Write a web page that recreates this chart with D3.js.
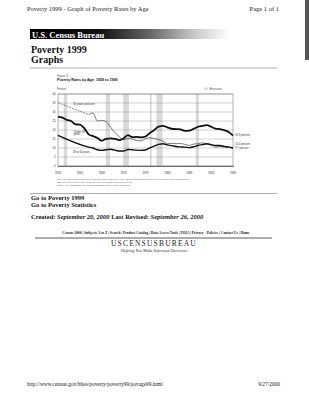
<!DOCTYPE html>
<html>
<head>
<meta charset="utf-8">
<script src="https://cdn.jsdelivr.net/npm/d3@7"></script>
<style>
  body { margin: 0; background: #fff; }
  svg { display: block; }
</style>
</head>
<body>
<div id="page"></div>
<script>
// poverty rates by age, percent
var under18Years = d3.range(1959, 2000);
var under18 = [27.3, 26.9, 25.6, 25.0, 23.1, 23.0, 21.0, 17.6, 16.6, 15.6, 14.0,
  15.1, 15.3, 15.1, 14.4, 15.4, 17.1, 16.0, 16.2, 15.9, 16.4, 18.3, 20.0, 21.9,
  22.3, 21.5, 20.7, 20.5, 20.3, 19.5, 19.6, 20.6, 21.8, 22.3, 22.7, 21.8, 20.8,
  20.5, 19.9, 18.9, 16.9];
var adultYears = [1959].concat(d3.range(1966, 2000));
var age18to64 = [17.0, 10.5, 10.0, 9.0, 8.7, 9.0, 9.3, 8.8, 8.3, 8.3, 9.2, 9.0,
  8.8, 8.7, 8.9, 10.1, 11.1, 12.0, 12.4, 11.7, 11.3, 10.8, 10.6, 10.5, 10.2,
  10.7, 11.4, 11.9, 12.4, 11.9, 11.4, 11.4, 10.9, 10.5, 10.0];
var age65 = [35.2, 28.5, 29.5, 25.0, 25.3, 24.6, 21.6, 18.6, 16.3, 14.6, 15.3,
  15.0, 14.1, 14.0, 15.2, 15.7, 15.3, 14.6, 13.8, 12.4, 12.6, 12.4, 12.5, 12.0,
  11.4, 12.2, 12.4, 12.9, 12.2, 11.7, 10.5, 10.8, 10.5, 10.5, 9.7];
var recessions = [[1960.3, 1961.1], [1969.9, 1970.9], [1973.9, 1975.2],
  [1980.0, 1980.4], [1981.5, 1982.9], [1990.5, 1991.2]];
var xTicks = [1959, 1964, 1969, 1974, 1979, 1984, 1989, 1994, 1999];
var yTicks = [0, 5, 10, 15, 20, 25, 30, 35, 40];
var navLinks = ["Census 2000", "Subjects A to Z", "Search", "Product Catalog",
  "Data Access Tools", "FOIA", "Privacy \u00b7 Policies", "Contact Us", "Home"];

var W = 309, H = 400;
var svg = d3.select("#page").append("svg").attr("width", W).attr("height", H);
var serif = "'Liberation Serif', 'DejaVu Serif', serif";
var sans = "'Liberation Sans', Arial, sans-serif";

// scan edge at the right
svg.append("rect").attr("x", 305).attr("y", 0).attr("width", 4).attr("height", 60).attr("fill", "#555");

// browser print header / footer
svg.append("text").attr("x", 27).attr("y", 11).attr("font-family", serif).attr("font-size", 6.5)
  .attr("fill", "#222").text("Poverty 1999 - Graph of Poverty Rates by Age");
svg.append("text").attr("x", 279).attr("y", 11).attr("text-anchor", "end").attr("font-family", serif)
  .attr("font-size", 6.5).attr("fill", "#222").text("Page 1 of 1");
svg.append("text").attr("x", 27).attr("y", 386).attr("font-family", serif).attr("font-size", 5.4)
  .attr("fill", "#222").text("http://www.census.gov/hhes/poverty/poverty99/povage99.html");
svg.append("text").attr("x", 280).attr("y", 386).attr("text-anchor", "end").attr("font-family", serif)
  .attr("font-size", 5.4).attr("fill", "#222").text("9/27/2000");

// banner
var defs = svg.append("defs");
var grad = defs.append("linearGradient").attr("id", "banner");
[[0, "#000"], [0.35, "#111"], [0.6, "#666"], [0.82, "#c8c8c8"], [1, "#fff"]].forEach(function (s) {
  grad.append("stop").attr("offset", s[0]).attr("stop-color", s[1]);
});
svg.append("rect").attr("x", 30).attr("y", 29).attr("width", 200).attr("height", 10).attr("fill", "url(#banner)");
svg.append("text").attr("x", 32).attr("y", 37.5).attr("font-family", serif).attr("font-size", 8.5)
  .attr("font-weight", "bold").attr("fill", "#fff").text("U.S. Census Bureau");

svg.append("text").attr("x", 31).attr("y", 53).attr("font-family", serif).attr("font-size", 10)
  .attr("font-weight", "bold").attr("fill", "#111").text("Poverty 1999");
svg.append("text").attr("x", 31).attr("y", 63).attr("font-family", serif).attr("font-size", 10)
  .attr("font-weight", "bold").attr("fill", "#111").text("Graphs");
svg.append("line").attr("x1", 30).attr("x2", 277).attr("y1", 68).attr("y2", 68)
  .attr("stroke", "#999").attr("stroke-width", 0.8);

// figure title
svg.append("text").attr("x", 57).attr("y", 76.5).attr("font-family", sans).attr("font-size", 3)
  .attr("fill", "#555").text("Figure 3.");
svg.append("text").attr("x", 57).attr("y", 80.5).attr("font-family", sans).attr("font-size", 3.6)
  .attr("font-weight", "bold").attr("fill", "#111").text("Poverty Rates by Age: 1959 to 1999");
svg.append("text").attr("x", 57).attr("y", 89.5).attr("font-family", sans).attr("font-size", 2.6)
  .attr("fill", "#444").text("Percent");

// chart
var x = d3.scaleLinear().domain([1959, 1999]).range([58, 233]);
var y = d3.scaleLinear().domain([0, 40]).range([166, 94]);
var g = svg.append("g");

g.selectAll(".rec").data(recessions).enter().append("rect")
  .attr("x", function (d) { return x(d[0]); })
  .attr("width", function (d) { return x(d[1]) - x(d[0]); })
  .attr("y", y(40)).attr("height", y(0) - y(40))
  .attr("fill", "#d9d9d9");

g.selectAll(".grid").data(yTicks).enter().append("line")
  .attr("x1", x(1959)).attr("x2", x(1999))
  .attr("y1", function (d) { return y(d); }).attr("y2", function (d) { return y(d); })
  .attr("stroke", "#888").attr("stroke-width", 0.4);
g.append("rect").attr("x", x(1959)).attr("y", y(40)).attr("width", x(1999) - x(1959))
  .attr("height", y(0) - y(40)).attr("fill", "none").attr("stroke", "#666").attr("stroke-width", 0.5);

var xAxis = g.append("g").attr("transform", "translate(0," + y(0) + ")")
  .call(d3.axisBottom(x).tickValues(d3.range(1959, 2000)).tickSize(1.2).tickFormat(""));
xAxis.selectAll("line").attr("stroke", "#444").attr("stroke-width", 0.3);
xAxis.select(".domain").attr("stroke", "#333").attr("stroke-width", 0.6);
g.selectAll(".xl").data(xTicks).enter().append("text")
  .attr("x", function (d) { return x(d); }).attr("y", 173.5)
  .attr("text-anchor", "middle").attr("font-family", sans).attr("font-size", 2.8).attr("fill", "#333")
  .text(function (d) { return d; });
g.selectAll(".yl").data(yTicks).enter().append("text")
  .attr("x", 55.5).attr("y", function (d) { return y(d) + 1; })
  .attr("text-anchor", "end").attr("font-family", sans).attr("font-size", 2.8).attr("fill", "#333")
  .text(function (d) { return d; });

var line = d3.line().curve(d3.curveMonotoneX)
  .x(function (d) { return x(d[0]); }).y(function (d) { return y(d[1]); });

var aged = d3.zip(adultYears, age65);
g.append("path").attr("d", line(aged.slice(0, 2))).attr("fill", "none")
  .attr("stroke", "#555").attr("stroke-width", 0.7).attr("stroke-dasharray", "2,1");
g.append("path").attr("d", line(aged.slice(1))).attr("fill", "none")
  .attr("stroke", "#555").attr("stroke-width", 0.8);
g.append("path").attr("d", line(d3.zip(adultYears, age18to64))).attr("fill", "none")
  .attr("stroke", "#111").attr("stroke-width", 1.4);
g.append("path").attr("d", line(d3.zip(under18Years, under18))).attr("fill", "none")
  .attr("stroke", "#111").attr("stroke-width", 1.8);

// series labels
function lbl(t, xx, yy, anchor) {
  g.append("text").attr("x", xx).attr("y", yy).attr("text-anchor", anchor || "start")
    .attr("font-family", sans).attr("font-size", 2.7).attr("fill", "#333").text(t);
}
lbl("65 years and over", x(1962.5), y(34));
lbl("Under 18", x(1962.6), y(18.6));
lbl("years", x(1962.6), y(17.2));
lbl("18 to 64 years", x(1962.4), y(7.2));
lbl("16.9 percent", 235, y(16.4));
lbl("10.0 percent", 235, y(11.5));
lbl("9.7 percent", 235, y(9.2));

// recession key
svg.append("rect").attr("x", 204).attr("y", 87.6).attr("width", 4).attr("height", 2.2).attr("fill", "#d9d9d9");
svg.append("text").attr("x", 209.5).attr("y", 89.6).attr("font-family", sans).attr("font-size", 2.6)
  .attr("fill", "#444").text("Recession");

// note
var notes = [
  "Note: The data points represent the midpoints of the respective years. The latest recession began in July 1990 and ended in March 1991.",
  "Data for people 18 to 64 and 65 and over are not available from 1960 to 1965.",
  "Source: U.S. Census Bureau, Current Population Survey, March 1960-2000."
];
svg.selectAll(".note").data(notes).enter().append("text")
  .attr("x", 57).attr("y", function (d, i) { return 180 + i * 2.8; })
  .attr("font-family", sans).attr("font-size", 2.2).attr("fill", "#555").text(function (d) { return d; });

svg.append("line").attr("x1", 30).attr("x2", 277).attr("y1", 193.5).attr("y2", 193.5)
  .attr("stroke", "#999").attr("stroke-width", 0.8);

// links
svg.append("text").attr("x", 31).attr("y", 200).attr("font-family", serif).attr("font-size", 6.5)
  .attr("font-weight", "bold").attr("fill", "#111").text("Go to Poverty 1999");
svg.append("text").attr("x", 31).attr("y", 206.5).attr("font-family", serif).attr("font-size", 6.5)
  .attr("font-weight", "bold").attr("fill", "#111").text("Go to Poverty Statistics");
var cr = svg.append("text").attr("x", 31).attr("y", 219).attr("font-family", serif).attr("font-size", 6.5)
  .attr("font-weight", "bold").attr("fill", "#111");
cr.append("tspan").text("Created: ");
cr.append("tspan").attr("font-style", "italic").text("September 20, 2000");
cr.append("tspan").text(" Last Revised: ");
cr.append("tspan").attr("font-style", "italic").text("September 26, 2000");

svg.append("text").attr("x", 156).attr("y", 234).attr("text-anchor", "middle")
  .attr("font-family", serif).attr("font-size", 3.6).attr("font-weight", "bold").attr("fill", "#222")
  .text(navLinks.join(" | "));
svg.append("line").attr("x1", 35).attr("x2", 272).attr("y1", 238).attr("y2", 238)
  .attr("stroke", "#333").attr("stroke-width", 0.8);
svg.append("text").attr("x", 154).attr("y", 245.5).attr("text-anchor", "middle")
  .attr("font-family", serif).attr("font-size", 7.5).attr("letter-spacing", 1.2).attr("fill", "#222")
  .text("USCENSUSBUREAU");
svg.append("text").attr("x", 154).attr("y", 252).attr("text-anchor", "middle")
  .attr("font-family", serif).attr("font-size", 4.3).attr("font-style", "italic").attr("fill", "#333")
  .text("Helping You Make Informed Decisions");
</script>
</body>
</html>
